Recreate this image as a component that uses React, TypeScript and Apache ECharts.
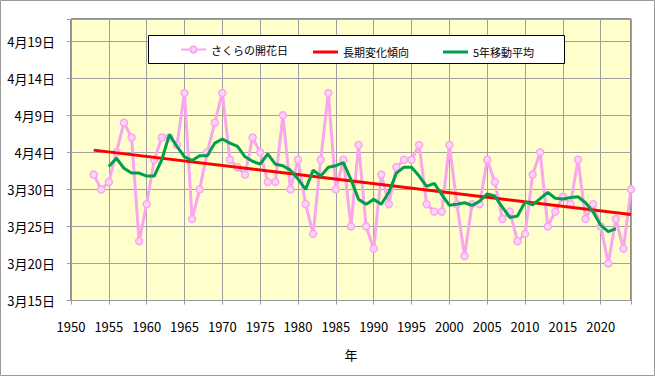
import React, { useEffect, useRef } from "react";
import * as echarts from "echarts";

// Years of observation
const years: number[] = [];
for (let y = 1953; y <= 2024; y++) years.push(y);

// Flowering day expressed as "day of March" (Apr 1 = 32)
const bloomDays = [
  32, 30, 31, 35, 39, 37, 23, 28, 34, 37,
  37, 36, 43, 26, 30, 35, 39, 43, 34, 33,
  32, 37, 35, 31, 31, 40, 30, 34, 28, 24,
  34, 43, 30, 34, 25, 36, 25, 22, 32, 28,
  33, 34, 34, 36, 28, 27, 27, 36, 28, 21,
  28, 28, 34, 31, 26, 27, 23, 24, 32, 35,
  25, 27, 29, 28, 34, 26, 28, 25, 20, 26,
  22, 30,
];

// 5-year moving average, 1955..2022
const maYears: number[] = [];
for (let y = 1955; y <= 2022; y++) maYears.push(y);
const maValues = [
  33.1, 34.2, 32.85, 32.2, 32.2, 31.8, 31.8, 34.0, 37.4, 35.8,
  34.4, 33.9, 34.55, 34.55, 36.25, 36.8, 36.25, 35.8, 34.4, 33.8,
  33.4, 34.8, 33.4, 33.2, 32.6, 31.4, 30.0, 32.6, 31.8, 33.0,
  33.2, 33.6, 31.3, 28.65, 28.0, 28.65, 28.0, 29.6, 32.2, 33.0,
  33.0, 31.8, 30.4, 30.8, 29.3, 27.85, 28.0, 28.2, 27.85, 28.4,
  29.4, 29.1, 27.6, 26.2, 26.4, 28.3, 27.9, 28.75, 29.6, 28.8,
  28.7, 28.9, 29.0, 28.2, 26.95, 25.15, 24.3, 24.7,
];

// Long-term linear trend end points
const trendYears = [1953, 2024];
const trendValues = [35.3, 26.6];

// Y tick labels (value = day of March)
const yTickValues = [15, 20, 25, 30, 35, 40, 45, 50];
const yTickLabels = ["3月15日", "3月20日", "3月25日", "3月30日", "4月4日", "4月9日", "4月14日", "4月19日"];

const seriesNames = ["さくらの開花日", "長期変化傾向", "5年移動平均"];

const FONT = '"Noto Sans CJK JP", "Noto Sans", sans-serif';

export default function App() {
  const ref = useRef<HTMLDivElement>(null);
  useEffect(() => {
    if (!ref.current) return;
    const chart = echarts.init(ref.current, undefined, { renderer: "svg" });
    const legendCommon = {
      top: 44,
      padding: 0,
      itemWidth: 25,
      itemHeight: 8,
      itemGap: 0,
      textStyle: { fontFamily: FONT, fontSize: 11, color: "#000" },
      z: 10,
    };
    const lineLegend = {
      ...legendCommon,
      top: 46.5,
      itemHeight: 3,
    };
    chart.setOption({
      animation: false,
      backgroundColor: "#ffffff",
      textStyle: { fontFamily: FONT },
      graphic: [
        {
          type: "rect",
          shape: { x: 0.5, y: 0.5, width: 654, height: 375 },
          style: { fill: "none", stroke: "#9a9a9a", lineWidth: 1 },
          z: 0,
          silent: true,
        },
        {
          type: "rect",
          shape: { x: 148.5, y: 35.5, width: 416, height: 28 },
          style: { fill: "#ffffff", stroke: "#000000", lineWidth: 1 },
          z: 5,
          silent: true,
        },
      ],
      legend: [
        { ...legendCommon, left: 180, data: [seriesNames[0]] },
        { ...lineLegend, left: 313, data: [{ name: seriesNames[1], icon: "rect" }] },
        { ...lineLegend, left: 443, data: [{ name: seriesNames[2], icon: "rect" }] },
      ],
      grid: {
        left: 71,
        right: 24,
        top: 19,
        bottom: 75.5,
        show: true,
        backgroundColor: "#FFFFCC",
        borderColor: "#222",
        borderWidth: 1,
      },
      xAxis: {
        type: "value",
        min: 1950,
        max: 2024,
        interval: 5,
        name: "年",
        nameLocation: "middle",
        nameGap: 47,
        nameTextStyle: { fontFamily: FONT, fontSize: 13, color: "#000" },
        axisLine: { show: true, lineStyle: { color: "#999", width: 1 } },
        axisTick: { show: true, length: 4, lineStyle: { color: "#999" } },
        axisLabel: {
          margin: 19,
          fontFamily: FONT,
          fontSize: 13,
          color: "#000",
          formatter: (v: number) => (v % 5 === 0 ? String(v) : ""),
        },
        splitLine: { show: true, lineStyle: { color: "#a0a0a0", width: 1 } },
      },
      yAxis: {
        type: "value",
        min: 15,
        max: 53,
        interval: 5,
        axisLine: { show: true, lineStyle: { color: "#999", width: 1 } },
        axisTick: { show: true, length: 4, lineStyle: { color: "#999" } },
        axisLabel: {
          margin: 16,
          fontFamily: FONT,
          fontSize: 13,
          color: "#000",
          formatter: (v: number) => {
            const i = yTickValues.indexOf(v);
            return i >= 0 ? yTickLabels[i] : "";
          },
        },
        splitLine: { show: true, lineStyle: { color: "#a0a0a0", width: 1 } },
      },
      series: [
        {
          name: seriesNames[0],
          type: "line",
          data: years.map((y, i) => [y, bloomDays[i]]),
          symbol: "circle",
          symbolSize: 7,
          showAllSymbol: true,
          lineStyle: { color: "#F9A6EE", width: 3 },
          itemStyle: { color: "#FDD3FA", borderColor: "#F9A6EE", borderWidth: 1.5 },
          z: 2,
        },
        {
          name: seriesNames[1],
          type: "line",
          data: trendYears.map((y, i) => [y, trendValues[i]]),
          symbol: "none",
          lineStyle: { color: "#FF0000", width: 3 },
          itemStyle: { color: "#FF0000" },
          z: 3,
        },
        {
          name: seriesNames[2],
          type: "line",
          data: maYears.map((y, i) => [y, maValues[i]]),
          symbol: "none",
          lineStyle: { color: "#00A04A", width: 3 },
          itemStyle: { color: "#00A04A" },
          z: 4,
        },
      ],
    });
    return () => chart.dispose();
  }, []);
  return (
    <div
      ref={ref}
      style={{ position: "fixed", left: 0, top: 0, width: 655, height: 376 }}
    />
  );
}
